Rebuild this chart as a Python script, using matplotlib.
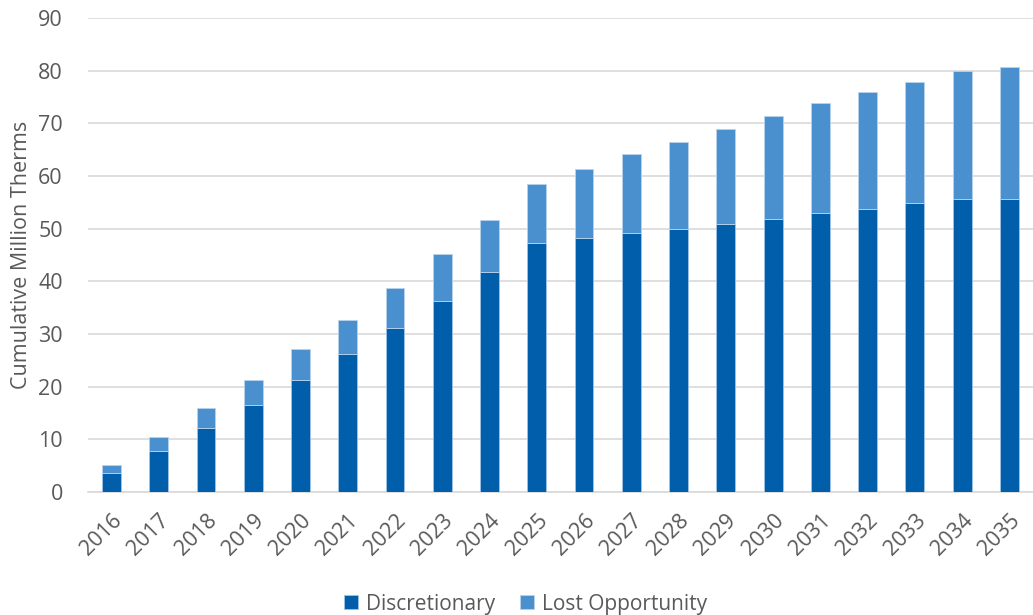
import matplotlib
matplotlib.use("Agg")
import matplotlib.pyplot as plt
import numpy as np

years = [str(y) for y in range(2016, 2036)]
discretionary = [3.7, 7.8, 12.2, 16.6, 21.3, 26.1, 31.2, 36.3, 41.7, 47.3,
                 48.3, 49.2, 49.9, 50.9, 51.9, 52.9, 53.8, 54.8, 55.6, 55.6]
cumulative_total = [5.1, 10.5, 15.9, 21.2, 27.1, 32.6, 38.8, 45.1, 51.7, 58.5,
                    61.4, 64.1, 66.5, 68.9, 71.4, 73.8, 76.0, 77.9, 79.9, 80.7]
lost_opportunity = [t - d for t, d in zip(cumulative_total, discretionary)]

dark_blue = "#005EAB"
light_blue = "#4A90CE"
text_gray = "#595959"
grid_gray = "#D9D9D9"

plt.rcParams["font.family"] = ["Open Sans", "DejaVu Sans"]

fig = plt.figure(figsize=(10.33, 6.15), dpi=100)
ax = fig.add_axes([0.085, 0.2, 0.915, 0.771])

x = np.arange(len(years))
w = 0.4
ax.bar(x, discretionary, width=w, color=dark_blue, edgecolor="#9FC3E6",
       linewidth=0.6, label="Discretionary", zorder=3)
ax.bar(x, lost_opportunity, width=w, bottom=discretionary, color=light_blue,
       edgecolor="#B8D4EE", linewidth=0.6, label="Lost Opportunity", zorder=3)

ax.set_xlim(-0.5, len(years) - 0.5)
ax.set_ylim(0, 90)
ax.set_yticks(range(0, 91, 10))
ax.yaxis.grid(True, color=grid_gray, linewidth=1.2, zorder=0)
ax.set_axisbelow(True)
for s in ["top", "right", "left"]:
    ax.spines[s].set_visible(False)
ax.spines["bottom"].set_color(grid_gray)
ax.spines["bottom"].set_linewidth(1.2)
ax.tick_params(axis="both", length=0, colors=text_gray, labelsize=15.5)
ax.tick_params(axis="y", pad=18)
ax.set_xticks(x)
ax.set_xticklabels(years, rotation=45, ha="right", rotation_mode="anchor")
ax.tick_params(axis="x", pad=13)
ax.set_ylabel("Cumulative Million Therms", color=text_gray, fontsize=15.5, labelpad=4)

handles, labels = ax.get_legend_handles_labels()
leg = fig.legend(handles, labels, loc="lower center", bbox_to_anchor=(0.509, -0.03),
                 ncol=2, frameon=False, fontsize=15, handlelength=0.65,
                 handleheight=0.65, handletextpad=0.4, columnspacing=1.2)
for t in leg.get_texts():
    t.set_color(text_gray)

fig.savefig("out.png", dpi=100)
